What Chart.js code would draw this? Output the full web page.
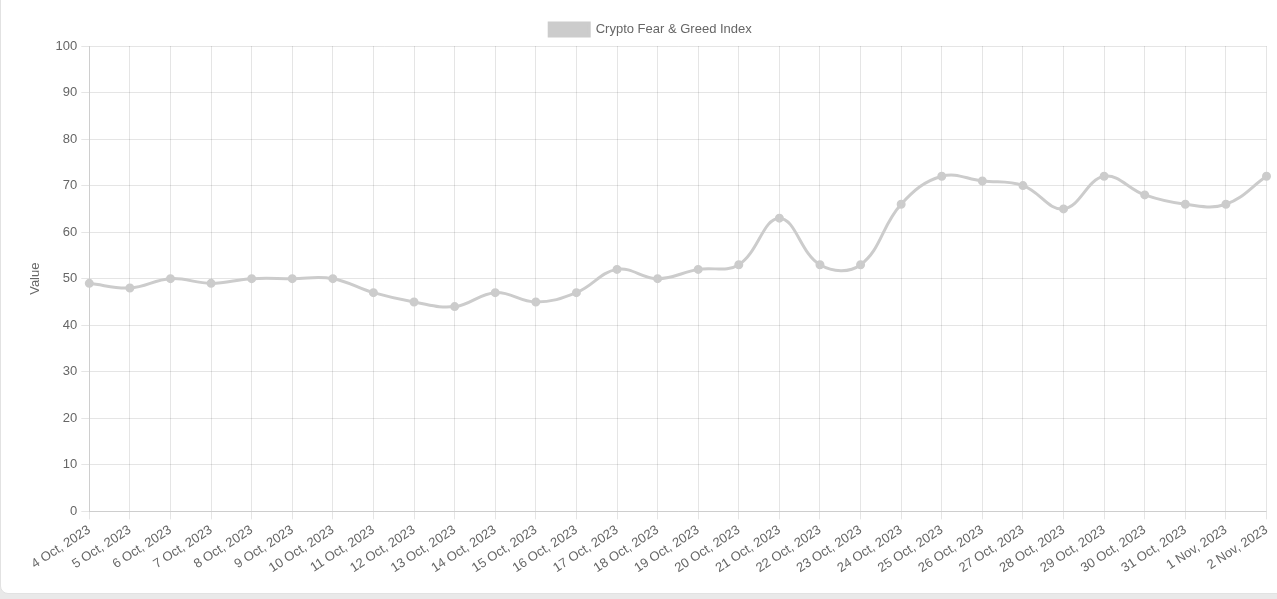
<!DOCTYPE html>
<html>
<head>
<meta charset="utf-8">
<script src="https://cdn.jsdelivr.net/npm/chart.js"></script>
<style>
    html, body { margin: 0; padding: 0; background: #e9e9e9; overflow: hidden; }
    .card {
        position: absolute; left: 0; top: -10px;
        width: 1290px; height: 604px;
        background: #fff;
        border: 1px solid #e2e2e2;
        border-radius: 8px;
        box-sizing: border-box;
    }
    .chart-wrap { position: absolute; left: 23px; top: 22px; width: 1254px; height: 566px; }
</style>
</head>
<body>
<div class="card">
    <div class="chart-wrap"><canvas id="fng_chart"></canvas></div>
</div>
<script>
var dates = ['4 Oct, 2023', '5 Oct, 2023', '6 Oct, 2023', '7 Oct, 2023', '8 Oct, 2023', '9 Oct, 2023',
    '10 Oct, 2023', '11 Oct, 2023', '12 Oct, 2023', '13 Oct, 2023', '14 Oct, 2023', '15 Oct, 2023',
    '16 Oct, 2023', '17 Oct, 2023', '18 Oct, 2023', '19 Oct, 2023', '20 Oct, 2023', '21 Oct, 2023',
    '22 Oct, 2023', '23 Oct, 2023', '24 Oct, 2023', '25 Oct, 2023', '26 Oct, 2023', '27 Oct, 2023',
    '28 Oct, 2023', '29 Oct, 2023', '30 Oct, 2023', '31 Oct, 2023', '1 Nov, 2023', '2 Nov, 2023'];
var fngValues = [49, 48, 50, 49, 50, 50, 50, 47, 45, 44, 47, 45, 47, 52, 50, 52, 53, 63, 53, 53,
    66, 72, 71, 70, 65, 72, 68, 66, 66, 72];

Chart.defaults.font.family = "'Liberation Sans', Arial, sans-serif";
Chart.defaults.font.size = 13;
Chart.defaults.color = '#666';

var ctx = document.getElementById('fng_chart').getContext('2d');
var myChart = new Chart(ctx, {
    type: 'line',
    data: {
        labels: dates,
        datasets: [{
            label: 'Crypto Fear & Greed Index',
            data: fngValues,
            fill: false,
            borderColor: 'rgb(204, 204, 204)',
            backgroundColor: 'rgb(204, 204, 204)',
            borderWidth: 3,
            pointRadius: 3,
            tension: 0.4
        }]
    },
    options: {
        responsive: true,
        maintainAspectRatio: false,
        animation: false,
        layout: { padding: { right: 1 } },
        plugins: {
            legend: { position: 'top' }
        },
        scales: {
            x: {
                ticks: { maxRotation: 33, minRotation: 33, autoSkip: false }
            },
            y: {
                min: 0,
                max: 100,
                ticks: { stepSize: 10, padding: 4 },
                title: { display: true, text: 'Value', padding: { top: 4, bottom: 8 } }
            }
        }
    }
});
</script>
</body>
</html>
